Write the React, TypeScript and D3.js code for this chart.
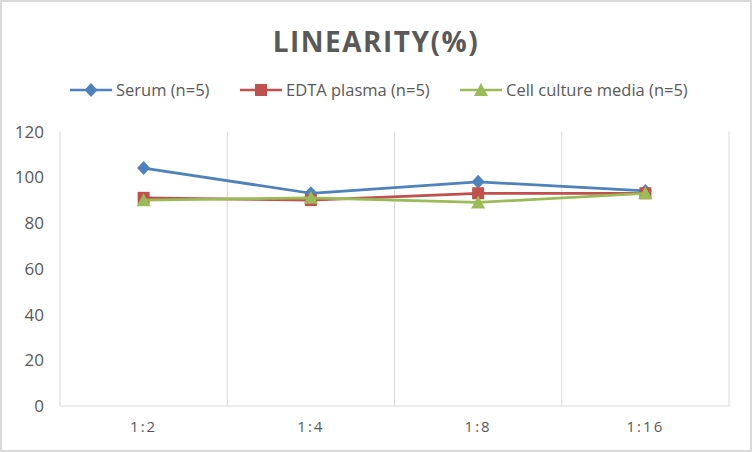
import React from "react";
import * as d3 from "d3";

const categories = ["1:2", "1:4", "1:8", "1:16"];
const serum = [104, 93, 98, 94];
const edta = [91, 90, 93, 93];
const cellCulture = [90, 91, 89, 93];
const seriesNames = ["Serum (n=5)", "EDTA plasma (n=5)", "Cell culture media (n=5)"];
const seriesColors = ["#4F81BD", "#C0504D", "#9BBB59"];
const markers = ["diamond", "square", "triangle"];
const yTicks = [0, 20, 40, 60, 80, 100, 120];

const W = 752;
const H = 452;
const plot = { left: 60, right: 729, top: 131.5, bottom: 406 };
const FONT = "'Open Sans', 'DejaVu Sans Condensed', sans-serif";

function Marker({ kind, x, y, color }: { kind: string; x: number; y: number; color: string }) {
  if (kind === "diamond") {
    return <path d={`M${x},${y - 7} L${x + 6.5},${y} L${x},${y + 7} L${x - 6.5},${y} Z`} fill={color} />;
  }
  if (kind === "square") {
    return <rect x={x - 6} y={y - 6} width={12} height={12} fill={color} />;
  }
  return <path d={`M${x},${y - 7} L${x + 7},${y + 6} L${x - 7},${y + 6} Z`} fill={color} />;
}

export default function App() {
  const x = d3.scaleBand().domain(categories).range([plot.left, plot.right]);
  const y = d3.scaleLinear().domain([0, 120]).range([plot.bottom, plot.top]);
  const data = [serum, edta, cellCulture];
  const line = d3
    .line<number>()
    .x((_, i) => (x(categories[i]) as number) + x.bandwidth() / 2)
    .y((d) => y(d));
  const gridXs = [...categories.map((c) => x(c) as number), plot.right];
  const legendX = [70, 240, 460];
  const legendY = 90;

  return (
    <div style={{ position: "fixed", left: 0, top: 0 }}>
      <svg width={W} height={H} style={{ display: "block", background: "#fff" }}>
        <rect x={1} y={1} width={W - 2} height={H - 2} fill="#fff" stroke="#d9d9d9" strokeWidth={2} />
        <text
          x={376}
          y={52}
          textAnchor="middle"
          fontFamily={FONT}
          fontWeight="bold"
          fontSize={28}
          letterSpacing={1.5}
          fill="#595959"
        >
          LINEARITY(%)
        </text>
        {seriesNames.map((name, i) => (
          <g key={name}>
            <line x1={legendX[i]} x2={legendX[i] + 42} y1={legendY} y2={legendY} stroke={seriesColors[i]} strokeWidth={2.5} />
            <Marker kind={markers[i]} x={legendX[i] + 21} y={legendY} color={seriesColors[i]} />
            <text x={legendX[i] + 46} y={legendY + 6} fontFamily={FONT} fontSize={16.5} fill="#595959">
              {name}
            </text>
          </g>
        ))}
        {gridXs.map((gx, i) => (
          <line key={i} x1={gx} x2={gx} y1={plot.top} y2={plot.bottom} stroke="#d9d9d9" strokeWidth={1} />
        ))}
        <line x1={plot.left} x2={plot.right} y1={plot.bottom} y2={plot.bottom} stroke="#d9d9d9" strokeWidth={1} />
        {yTicks.map((t) => (
          <text key={t} x={44} y={y(t) + 6} textAnchor="end" fontFamily={FONT} fontSize={17} fill="#595959">
            {t}
          </text>
        ))}
        {categories.map((c) => (
          <text
            key={c}
            x={(x(c) as number) + x.bandwidth() / 2}
            y={432}
            textAnchor="middle"
            fontFamily={FONT}
            fontSize={15}
            letterSpacing={2}
            fill="#595959"
          >
            {c}
          </text>
        ))}
        {data.map((vals, si) => (
          <g key={si}>
            <path d={line(vals) || ""} fill="none" stroke={seriesColors[si]} strokeWidth={2.75} strokeLinejoin="round" />
            {vals.map((v, i) => (
              <Marker
                key={i}
                kind={markers[si]}
                x={(x(categories[i]) as number) + x.bandwidth() / 2}
                y={y(v)}
                color={seriesColors[si]}
              />
            ))}
          </g>
        ))}
      </svg>
    </div>
  );
}
